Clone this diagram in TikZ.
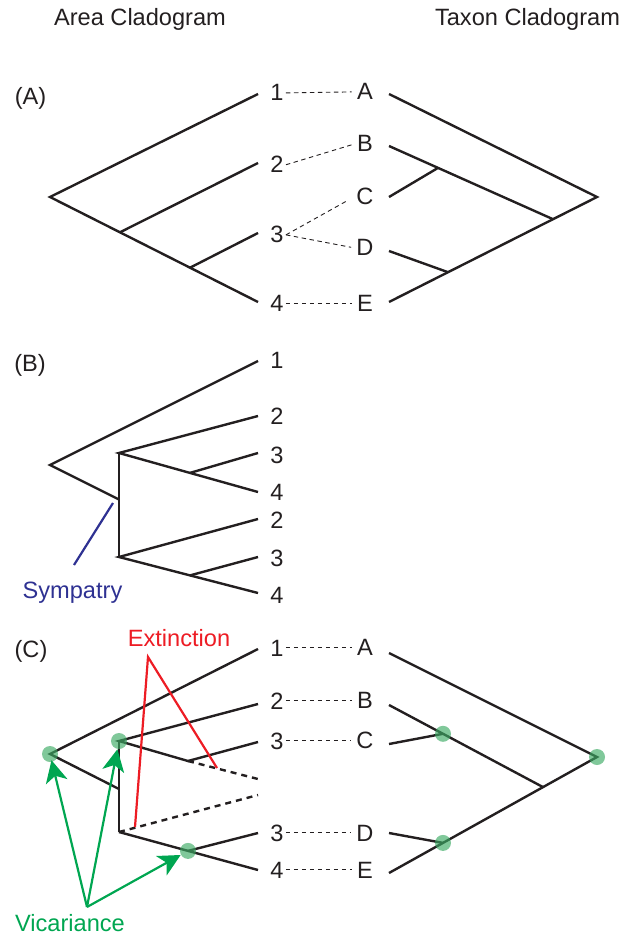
\documentclass[tikz,border=0pt]{standalone}
\usepackage{fontspec}
\setmainfont{Liberation Sans}
\usetikzlibrary{arrows.meta}
\definecolor{ink}{RGB}{35,31,32}
\definecolor{exred}{RGB}{237,28,36}
\definecolor{symblue}{RGB}{46,49,146}
\definecolor{vicgreen}{RGB}{0,166,81}
\definecolor{dotgreen}{RGB}{60,170,100}
\tikzset{
  lbl/.style={font=\fontsize{11.8}{14}\selectfont, text=ink, inner sep=1pt, anchor=base},
  br/.style={draw=ink, line width=1.2pt},
  link/.style={draw=ink, line width=0.45pt, dash pattern=on 2.2pt off 1.8pt, shorten >=1.5pt},
  lost/.style={draw=ink, line width=1.2pt, dash pattern=on 3pt off 2.5pt},
  vdot/.style={circle, fill=dotgreen, fill opacity=0.65, minimum size=8pt, inner sep=0pt},
  varrow/.style={draw=vicgreen, line width=1.1pt, -{Stealth[length=11pt,width=11pt,inset=3pt]}},
  exline/.style={draw=exred, line width=1.1pt},
  symline/.style={draw=symblue, line width=1.1pt},
}
\begin{document}
\begin{tikzpicture}[x=0.5pt,y=-0.5pt]
\useasboundingbox (0,0) rectangle (631,935);

% ---------- titles ----------
\node[lbl] (tArea) at (140,26) {Area Cladogram};
\node[lbl] (tTaxon) at (527.5,26) {Taxon Cladogram};

% ================= Panel A =================
\node[lbl] (pA) at (30.5,105) {(A)};
% area tree
\coordinate (a0) at (50,197);
\coordinate (a1) at (258,94);
\coordinate (a2) at (258,163);
\coordinate (a3) at (258,233);
\coordinate (a4) at (258,302);
\coordinate (an2) at (120,232.3);
\coordinate (an3) at (190,267.7);
\draw[br] (a1) -- (a0) -- (a4);
\draw[br] (a2) -- (an2);
\draw[br] (a3) -- (an3);
% taxon tree
\coordinate (ar0) at (597,197);
\coordinate (atA) at (389,94);
\coordinate (atB) at (389,146);
\coordinate (atC) at (389,197);
\coordinate (atD) at (389,251);
\coordinate (atE) at (389,302);
\coordinate (anBE) at (553,219.2);
\coordinate (anBC) at (438,167.9);
\coordinate (anDE) at (448,272.2);
\draw[br] (atA) -- (ar0) -- (atE);
\draw[br] (atB) -- (anBE);
\draw[br] (atC) -- (anBC);
\draw[br] (atD) -- (anDE);
% labels
\node[lbl] (aN1) at (277,101) {1};
\node[lbl] (aN2) at (277,173) {2};
\node[lbl] (aN3) at (277,243) {3};
\node[lbl] (aN4) at (277,312) {4};
\node[lbl] (aLA) at (365,100) {A};
\node[lbl] (aLB) at (365,152) {B};
\node[lbl] (aLC) at (365,205) {C};
\node[lbl] (aLD) at (365,256) {D};
\node[lbl] (aLE) at (365,312) {E};
\draw[link] (aN1.east) -- (aLA.west);
\draw[link] (aN2.east) -- (aLB.west);
\draw[link, shorten >=3.5pt] (aN3.east) -- (aLC.west);
\draw[link] (aN3.east) -- (aLD.west);
\draw[link] (aN4.east) -- (aLE.west);

% ================= Panel B =================
\node[lbl] (pB) at (30,371) {(B)};
\coordinate (b0) at (50,465);
\coordinate (b1) at (258,361);
\coordinate (bj) at (119,499.5);
\coordinate (bu) at (119,453);
\coordinate (bl) at (119,557);
\coordinate (bu3) at (190,472.9);
\coordinate (bl3) at (190,575.4);
\coordinate (b2) at (258,416);
\coordinate (b3) at (258,453);
\coordinate (b4) at (258,492);
\coordinate (b2b) at (258,519);
\coordinate (b3b) at (258,557);
\coordinate (b4b) at (258,593);
\draw[br] (b1) -- (b0) -- (bj);
\draw[br] (bu) -- (bl);
\draw[br] (b2) -- (bu) -- (b4);
\draw[br] (bu3) -- (b3);
\draw[br] (b2b) -- (bl) -- (b4b);
\draw[br] (bl3) -- (b3b);
\node[lbl] (bN1) at (277,368.5) {1};
\node[lbl] (bN2) at (277,424) {2};
\node[lbl] (bN3) at (277,463) {3};
\node[lbl] (bN4) at (277,500) {4};
\node[lbl] (bN2b) at (277,528) {2};
\node[lbl] (bN3b) at (277,566) {3};
\node[lbl] (bN4b) at (277,603) {4};
\coordinate (sy1) at (113,503);
\coordinate (sy2) at (74,565);
\draw[symline] (sy1) -- (sy2);
\node[lbl, text=symblue] (sym) at (72.5,598) {Sympatry};

% ================= Panel C =================
\node[lbl] (pC) at (31,657) {(C)};
\coordinate (c0) at (50,754);
\coordinate (c1) at (258,649);
\coordinate (cx) at (119,741);
\coordinate (c2) at (258,704);
\coordinate (cy) at (188,761);
\coordinate (c3) at (258,742);
\coordinate (ce1) at (258,779);
\coordinate (cw) at (119,789);
\coordinate (cz) at (119,832);
\coordinate (ce2) at (258,795);
\coordinate (c4) at (258,870);
\coordinate (cv) at (188,850.9);
\coordinate (c3b) at (258,833);
\draw[br] (c1) -- (c0) -- (cw);
\draw[br] (cx) -- (cz);
\draw[br] (c2) -- (cx) -- (cy) -- (c3);
\draw[lost] (cy) -- (ce1);
\draw[lost] (cz) -- (ce2);
\draw[br] (cz) -- (c4);
\draw[br] (cv) -- (c3b);
% taxon tree
\coordinate (cr0) at (597,757);
\coordinate (ctA) at (389,653);
\coordinate (ctB) at (389,705);
\coordinate (ctC) at (389,744);
\coordinate (ctD) at (389,833);
\coordinate (ctE) at (389,873);
\coordinate (cnBE) at (543,787.1);
\coordinate (cnBC) at (443,733.8);
\coordinate (cnDE) at (443,842.9);
\draw[br] (ctA) -- (cr0) -- (ctE);
\draw[br] (ctB) -- (cnBE);
\draw[br] (ctC) -- (cnBC);
\draw[br] (ctD) -- (cnDE);
% labels
\node[lbl] (cN1) at (277,656) {1};
\node[lbl] (cN2) at (277,709) {2};
\node[lbl] (cN3) at (277,749) {3};
\node[lbl] (cN3b) at (277,841) {3};
\node[lbl] (cN4) at (277,878) {4};
\node[lbl] (cLA) at (365,655) {A};
\node[lbl] (cLB) at (365,708) {B};
\node[lbl] (cLC) at (365,748) {C};
\node[lbl] (cLD) at (365,841) {D};
\node[lbl] (cLE) at (365,878) {E};
\draw[link] (cN1.east) -- (cN1.east -| cLA.west);
\draw[link] (cN2.east) -- (cN2.east -| cLB.west);
\draw[link] (cN3.east) -- (cN3.east -| cLC.west);
\draw[link] (cN3b.east) -- (cN3b.east -| cLD.west);
\draw[link] (cN4.east) -- (cN4.east -| cLE.west);
% extinction
\coordinate (exa) at (148,657);
\coordinate (ex1) at (217,768);
\coordinate (ex2) at (135,827);
\draw[exline] (ex1) -- (exa) -- (ex2);
\node[lbl, text=exred] (ext) at (179,646) {Extinction};
% vicariance dots
\node[vdot] (g1) at (c0) {};
\node[vdot] (g2) at (cx) {};
\node[vdot] (g3) at (cv) {};
\node[vdot] (g4) at (cnBC) {};
\node[vdot] (g5) at (cnDE) {};
\node[vdot] (g6) at (cr0) {};
\coordinate (va) at (87,907);
\draw[varrow, shorten >=-1pt] (va) -- (g1);
\draw[varrow] (va) -- (g2);
\draw[varrow] (va) -- (g3);
\node[lbl, text=vicgreen] (vic) at (70,931) {Vicariance};
\end{tikzpicture}
\end{document}
